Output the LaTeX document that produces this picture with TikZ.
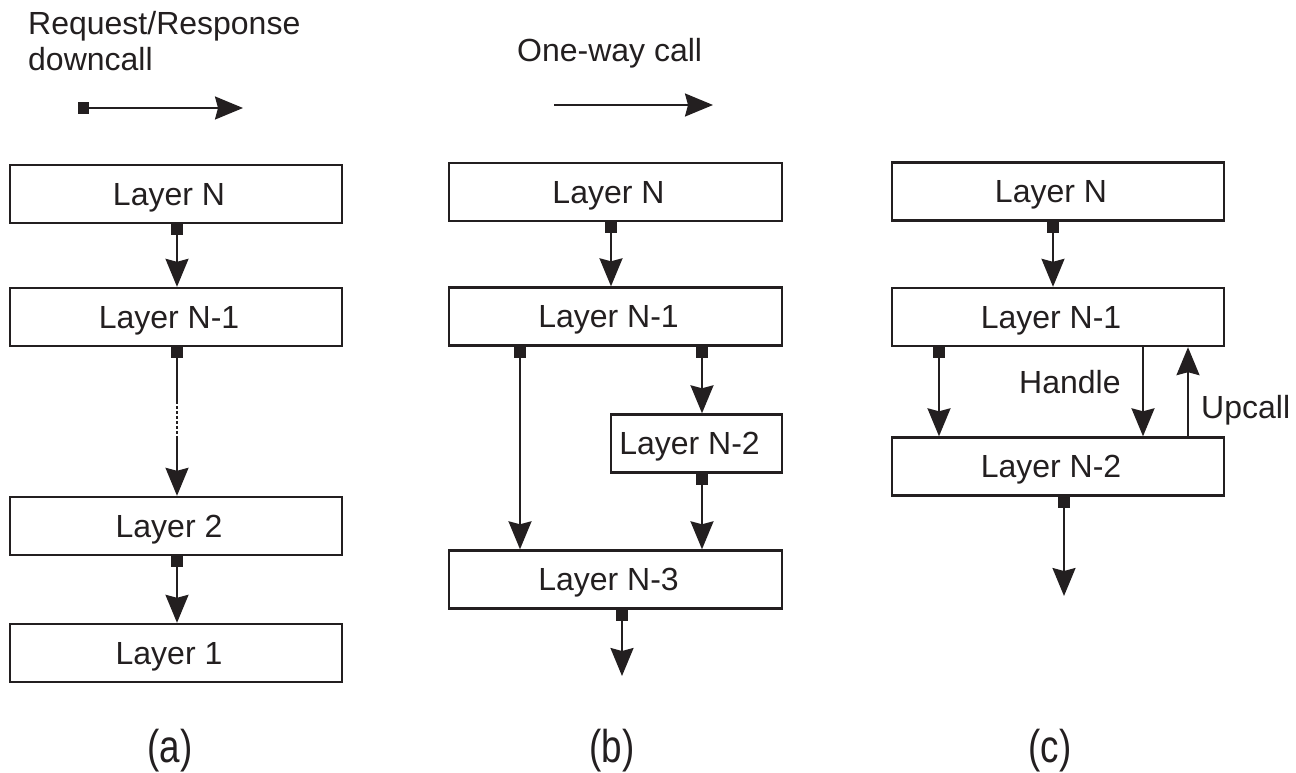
\documentclass[tikz,border=0pt]{standalone}
\usepackage{fontspec}
\usepackage{graphicx}
\setmainfont{Liberation Sans}
\usetikzlibrary{arrows.meta}
\definecolor{ink}{HTML}{231F20}
\begin{document}
\begin{tikzpicture}[x=1pt,y=-1pt,
  layer/.style={draw=ink, line width=2.4pt, rectangle, minimum height=58pt,
    minimum width=332pt, inner sep=0pt, text=ink, text height=22.5pt, text depth=0pt,
    font=\fontsize{32}{38}\selectfont, execute at end node={\kern14pt}},
  tipend/.tip={Stealth[length=28pt,width=23pt,inset=3pt]},
  tipstart/.tip={Square[length=11pt,width=12pt]},
  call/.style={draw=ink, line width=2pt, tipstart-tipend},
  plain/.style={draw=ink, line width=2pt, -tipend},
  lbl/.style={text=ink, anchor=base west, inner sep=0pt, font=\fontsize{32}{38}\selectfont},
  caption/.style={text=ink, anchor=base, inner sep=0pt, font=\fontsize{46}{50}\selectfont}]
\useasboundingbox (0,0) rectangle (1296,773);

% ---- legend ----
\node[lbl] (rr1) at (28,35) {Request/Response};
\node[lbl] (rr2) at (28,71) {downcall};
\coordinate (ls) at (78,108);
\coordinate (le) at (243,108);
\draw[call] (ls) -- (le);

\node[lbl] (ow) at (517,62) {One-way call};
\coordinate (os) at (554,105);
\coordinate (oe) at (713,105);
\draw[plain] (os) -- (oe);

% ---- (a) request/response stack ----
\node[layer] (aN)  at (176,194) {Layer N};
\node[layer] (aN1) at (176,317) {Layer N-1};
\node[layer] (a2)  at (176,526) {Layer 2};
\node[layer] (a1)  at (176,653) {Layer 1};

\draw[call] ([xshift=1pt]aN.south) -- ([xshift=1pt]aN1.north);
\draw[draw=ink, line width=2pt, tipstart-] ([xshift=1pt]aN1.south) -- ++(0,54) coordinate (ad1);
\draw[draw=ink, line width=2pt, dash pattern=on 2.5pt off 2.5pt] (ad1) -- ++(0,37) coordinate (ad2);
\draw[plain] (ad2) -- ([xshift=1pt]a2.north);
\draw[call] ([xshift=1pt]a2.south) -- ([xshift=1pt]a1.north);

% ---- (b) one-way calls ----
\node[layer, minimum width=333pt] (bN)  at (615.5,192)   {Layer N};
\node[layer, minimum width=333pt] (bN1) at (615.5,316.5) {Layer N-1};
\node[layer, minimum width=171pt] (bN2) at (696.5,443.5) {Layer N-2};
\node[layer, minimum width=333pt] (bN3) at (615.5,579.5) {Layer N-3};

\draw[call] ([xshift=-4.5pt]bN.south) -- ([xshift=-4.5pt]bN1.north);
\draw[call] ([xshift=-95.5pt]bN1.south) -- ([xshift=-95.5pt]bN3.north);
\draw[call] ([xshift=86.5pt]bN1.south) -- ([xshift=5.5pt]bN2.north);
\draw[call] ([xshift=5.5pt]bN2.south) -- ([xshift=86.5pt]bN3.north);
\coordinate (bout) at (622,676);
\draw[call] ([xshift=6.5pt]bN3.south) -- (bout);

% ---- (c) handle and upcall ----
\node[layer] (cN)  at (1058,191.5) {Layer N};
\node[layer] (cN1) at (1058,317)   {Layer N-1};
\node[layer] (cN2) at (1058,466.5) {Layer N-2};

\draw[call] ([xshift=-5pt]cN.south) -- ([xshift=-5pt]cN1.north);
\draw[call] ([xshift=-119pt]cN1.south) -- ([xshift=-119pt]cN2.north);
\draw[plain] ([xshift=85pt]cN1.south) -- ([xshift=85pt]cN2.north);
\draw[plain] ([xshift=130pt]cN2.north) -- ([xshift=130pt]cN1.south);
\node[lbl] (handle) at (1019,393) {Handle};
\node[lbl] (upcall) at (1201,418) {Upcall};
\coordinate (cout) at (1064,596);
\draw[call] ([xshift=6pt]cN2.south) -- (cout);

% ---- captions ----
\node[caption] (capa) at (170,762) {\scalebox{0.8}[1]{(a)}};
\node[caption] (capb) at (612,762) {\scalebox{0.8}[1]{(b)}};
\node[caption] (capc) at (1050,762) {\scalebox{0.8}[1]{(c)}};
\end{tikzpicture}
\end{document}
